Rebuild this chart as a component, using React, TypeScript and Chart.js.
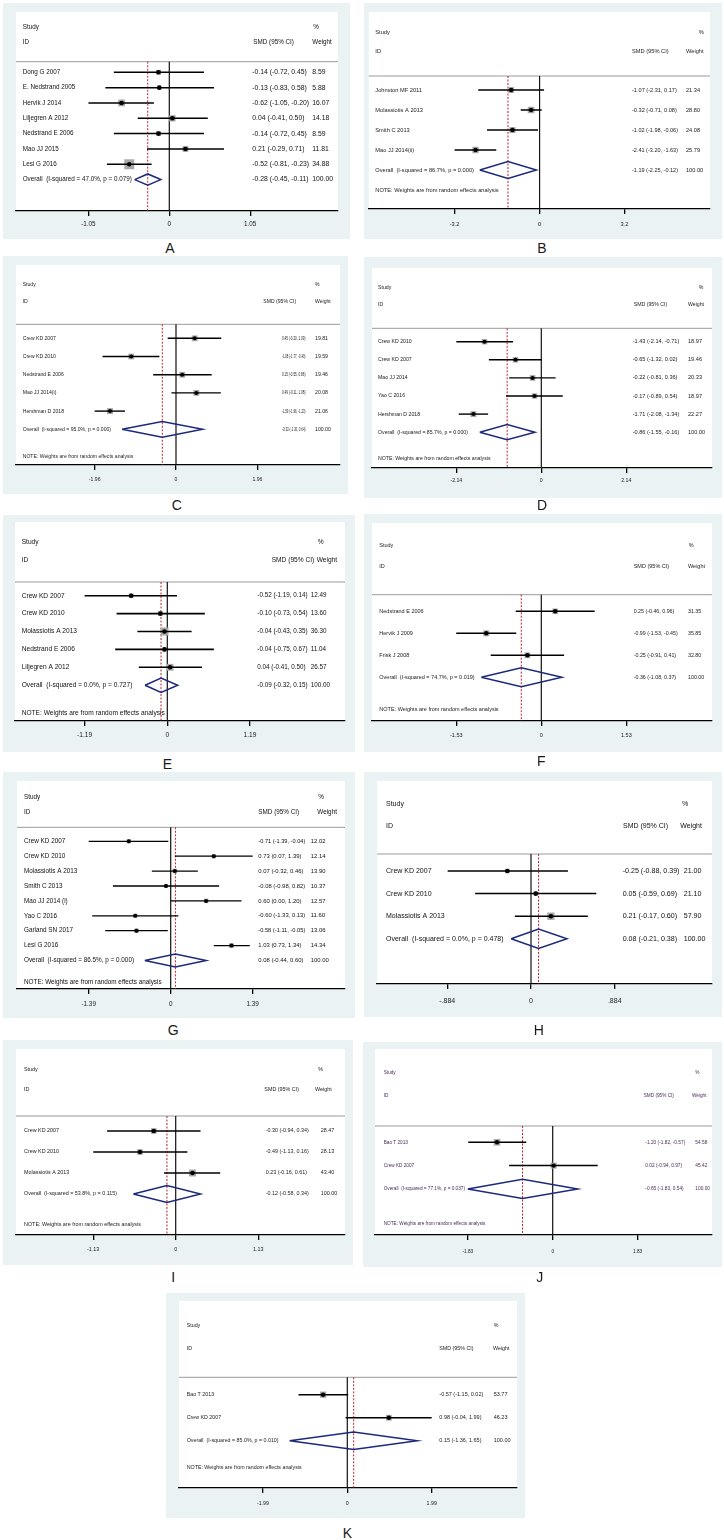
import React, { useEffect, useRef } from 'react';
import { Chart, registerables } from 'chart.js';
Chart.register(...registerables);

const FONT = '"Liberation Sans", Arial, sans-serif';
const NOTE = 'NOTE: Weights are from random effects analysis';

// ---------- Panel A ----------
const studiesA = ['Dong G 2007', 'E. Nedstrand 2005', 'Hervik J 2014', 'Liljegren A 2012', 'Nedstrand E 2006', 'Mao JJ 2015', 'Lesi G 2016'];
const smdA = [-0.14, -0.13, -0.62, 0.04, -0.14, 0.21, -0.52];
const lowA = [-0.72, -0.83, -1.05, -0.41, -0.72, -0.29, -0.81];
const highA = [0.45, 0.58, -0.20, 0.50, 0.45, 0.71, -0.23];
const weightA = [8.59, 5.88, 16.07, 14.18, 8.59, 11.81, 34.88];
const overallA = [-0.28, -0.45, -0.11];
const hetA = '47.0%, p = 0.079';
const ticksA = [-1.05, 0, 1.05];
const tickLabelsA = ['-1.05', '0', '1.05'];

// ---------- Panel B ----------
const studiesB = ['Johnston MF 2011', 'Molassiotis A 2013', 'Smith C 2013', 'Mao JJ 2014(ii)'];
const smdB = [-1.07, -0.32, -1.02, -2.41];
const lowB = [-2.31, -0.71, -1.98, -3.20];
const highB = [0.17, 0.08, -0.06, -1.63];
const weightB = [21.34, 28.80, 24.08, 25.79];
const overallB = [-1.19, -2.25, -0.12];
const hetB = '86.7%, p = 0.000';
const ticksB = [-3.2, 0, 3.2];
const tickLabelsB = ['-3.2', '0', '3.2'];

// ---------- Panel C ----------
const studiesC = ['Crew KD 2007', 'Crew KD 2010', 'Nedstrand E 2006', 'Mao JJ 2014(i)', 'Hershman D 2018'];
const smdC = [0.45, -1.08, 0.15, 0.49, -1.59];
const lowC = [-0.20, -1.77, -0.55, -0.11, -1.96];
const highC = [1.09, -0.40, 0.86, 1.08, -1.23];
const weightC = [19.81, 19.59, 19.46, 20.08, 21.06];
const overallC = [-0.33, -1.30, 0.64];
const hetC = '95.0%, p = 0.000';
const ticksC = [-1.96, 0, 1.96];
const tickLabelsC = ['-1.96', '0', '1.96'];

// ---------- Panel D ----------
const studiesD = ['Crew KD 2010', 'Crew KD 2007', 'Mao JJ 2014', 'Yao C 2016', 'Hershman D 2018'];
const smdD = [-1.43, -0.65, -0.22, -0.17, -1.71];
const lowD = [-2.14, -1.32, -0.81, -0.89, -2.08];
const highD = [-0.71, 0.02, 0.36, 0.54, -1.34];
const weightD = [18.97, 19.46, 20.33, 18.97, 22.27];
const overallD = [-0.86, -1.55, -0.16];
const hetD = '85.7%, p = 0.000';
const ticksD = [-2.14, 0, 2.14];
const tickLabelsD = ['-2.14', '0', '2.14'];

// ---------- Panel E ----------
const studiesE = ['Crew KD 2007', 'Crew KD 2010', 'Molassiotis A 2013', 'Nedstrand E 2006', 'Liljegren A 2012'];
const smdE = [-0.52, -0.10, -0.04, -0.04, 0.04];
const lowE = [-1.19, -0.73, -0.43, -0.75, -0.41];
const highE = [0.14, 0.54, 0.35, 0.67, 0.50];
const weightE = [12.49, 13.60, 36.30, 11.04, 26.57];
const overallE = [-0.09, -0.32, 0.15];
const hetE = '0.0%, p = 0.727';
const ticksE = [-1.19, 0, 1.19];
const tickLabelsE = ['-1.19', '0', '1.19'];

// ---------- Panel F ----------
const studiesF = ['Nedstrand E 2006', 'Hervik J 2009', 'Frisk J 2008'];
const smdF = [0.25, -0.99, -0.25];
const lowF = [-0.46, -1.53, -0.91];
const highF = [0.96, -0.45, 0.41];
const weightF = [31.35, 35.85, 32.80];
const overallF = [-0.36, -1.08, 0.37];
const hetF = '74.7%, p = 0.019';
const ticksF = [-1.53, 0, 1.53];
const tickLabelsF = ['-1.53', '0', '1.53'];

// ---------- Panel G ----------
const studiesG = ['Crew KD 2007', 'Crew KD 2010', 'Molassiotis A 2013', 'Smith C 2013', 'Mao JJ 2014 (i)', 'Yao C 2016', 'Garland SN 2017', 'Lesi G 2016'];
const smdG = [-0.71, 0.73, 0.07, -0.08, 0.60, -0.60, -0.58, 1.03];
const lowG = [-1.39, 0.07, -0.32, -0.98, 0.00, -1.33, -1.11, 0.73];
const highG = [-0.04, 1.39, 0.46, 0.82, 1.20, 0.13, -0.05, 1.34];
const weightG = [12.02, 12.14, 13.90, 10.37, 12.57, 11.60, 13.06, 14.34];
const overallG = [0.08, -0.44, 0.60];
const hetG = '86.5%, p = 0.000';
const ticksG = [-1.39, 0, 1.39];
const tickLabelsG = ['-1.39', '0', '1.39'];

// ---------- Panel H ----------
const studiesH = ['Crew KD 2007', 'Crew KD 2010', 'Molassiotis A 2013'];
const smdH = [-0.25, 0.05, 0.21];
const lowH = [-0.88, -0.59, -0.17];
const highH = [0.39, 0.69, 0.60];
const weightH = [21.00, 21.10, 57.90];
const overallH = [0.08, -0.21, 0.38];
const hetH = '0.0%, p = 0.478';
const ticksH = [-0.884, 0, 0.884];
const tickLabelsH = ['-.884', '0', '.884'];

// ---------- Panel I ----------
const studiesI = ['Crew KD 2007', 'Crew KD 2010', 'Molassiotis A 2013'];
const smdI = [-0.30, -0.49, 0.23];
const lowI = [-0.94, -1.13, -0.16];
const highI = [0.34, 0.16, 0.61];
const weightI = [28.47, 28.13, 43.40];
const overallI = [-0.12, -0.58, 0.34];
const hetI = '53.8%, p = 0.115';
const ticksI = [-1.13, 0, 1.13];
const tickLabelsI = ['-1.13', '0', '1.13'];

// ---------- Panel J ----------
const studiesJ = ['Bao T 2013', 'Crew KD 2007'];
const smdJ = [-1.20, 0.02];
const lowJ = [-1.82, -0.94];
const highJ = [-0.57, 0.97];
const weightJ = [54.58, 45.42];
const overallJ = [-0.65, -1.83, 0.54];
const hetJ = '77.1%, p = 0.037';
const ticksJ = [-1.83, 0, 1.83];
const tickLabelsJ = ['-1.83', '0', '1.83'];

// ---------- Panel K ----------
const studiesK = ['Bao T 2013', 'Crew KD 2007'];
const smdK = [-0.57, 0.98];
const lowK = [-1.15, -0.04];
const highK = [0.02, 1.99];
const weightK = [53.77, 46.23];
const overallK = [0.15, -1.36, 1.65];
const hetK = '85.0%, p = 0.010';
const ticksK = [-1.99, 0, 1.99];
const tickLabelsK = ['-1.99', '0', '1.99'];

type Layout = {
  outer: number[]; white: number[]; zero: number; ppu: number; r0: number; s: number;
  studyY: number; idY: number; hdrY: number; labelX: number; ciX: number; wtX: number;
  ciHdrX: number; wtHdrX: number; pctX: number; fs: number; ciFs: number; ciMax: number; tickY: number; letter: number[];
  k: number; noteY: number | null; dh: number; lw: number; dot: number; color: string;
};

const LAYOUTS: Record<string, Layout> = {
  A: { outer: [3, 3, 350, 239], white: [16, 12, 338, 211], zero: 169.3, ppu: 77, r0: 72.3, s: 15.33, studyY: 27.7, idY: 42.3, hdrY: 61.7, labelX: 22.7, ciX: 252.3, wtX: 312.3, ciHdrX: 253.3, wtHdrX: 312.3, pctX: 313.3, fs: 6.3, ciFs: 6.8, ciMax: 58.5, tickY: 224, letter: [170, 248], k: 1.69, noteY: null, dh: 0.37, lw: 1.5, dot: 2.3, color: '#111' },
  B: { outer: [364, 3, 722, 239], white: [367, 12, 710, 209], zero: 538.7, ppu: 26.7, r0: 90, s: 20, studyY: 32.3, idY: 51.7, hdrY: 76, labelX: 375.3, ciX: 632, wtX: 686, ciHdrX: 632, wtHdrX: 686, pctX: 698.7, fs: 5.7, ciFs: 5.6, ciMax: 46, tickY: 224, letter: [542, 248], k: 1.25, noteY: 190, dh: 0.42, lw: 1.6, dot: 2.2, color: '#222' },
  C: { outer: [3, 256, 348, 494], white: [16, 265, 340, 465], zero: 176, ppu: 41.5, r0: 338.3, s: 18.2, studyY: 285, idY: 301.7, hdrY: 324.3, labelX: 22.7, ciX: 282, wtX: 315, ciHdrX: 263.3, wtHdrX: 315, pctX: 315, fs: 5.1, ciFs: 5.2, ciMax: 23.5, tickY: 479.3, letter: [176.7, 505], k: 1.3, noteY: 456.7, dh: 0.43, lw: 1.4, dot: 2, color: '#222' },
  D: { outer: [364, 257, 722, 498], white: [372, 268, 712, 468], zero: 541.3, ppu: 39.7, r0: 341.7, s: 18.1, studyY: 287.7, idY: 305, hdrY: 328.3, labelX: 378, ciX: 632.7, wtX: 688, ciHdrX: 633.7, wtHdrX: 688, pctX: 698.7, fs: 5.2, ciFs: 5.6, ciMax: 48, tickY: 481, letter: [542, 505], k: 1.25, noteY: 459, dh: 0.42, lw: 1.4, dot: 2, color: '#222' },
  E: { outer: [3, 515, 355, 752], white: [15, 522, 345, 721], zero: 167.3, ppu: 69.5, r0: 595.7, s: 17.9, studyY: 541.7, idY: 560, hdrY: 582, labelX: 21.7, ciX: 257.3, wtX: 310.7, ciHdrX: 271.7, wtHdrX: 316.7, pctX: 317.7, fs: 6.6, ciFs: 6.3, ciMax: 51, tickY: 735.3, letter: [167.3, 764], k: 1.33, noteY: 712.7, dh: 0.4, lw: 1.6, dot: 2.3, color: '#111' },
  F: { outer: [364, 514, 722, 752], white: [372, 523, 712, 721], zero: 541.3, ppu: 55.6, r0: 611.3, s: 22, studyY: 545, idY: 566.7, hdrY: 594.7, labelX: 379.3, ciX: 633.7, wtX: 688, ciHdrX: 633.7, wtHdrX: 688, pctX: 688.7, fs: 5.5, ciFs: 5.3, ciMax: 44, tickY: 735.3, letter: [541.3, 760.7], k: 1.0, noteY: 709.7, dh: 0.43, lw: 1.6, dot: 2.2, color: '#222' },
  G: { outer: [3, 772, 355, 1018], white: [17, 781, 345, 989], zero: 170.7, ppu: 59, r0: 841.3, s: 14.9, studyY: 797.3, idY: 812, hdrY: 827.3, labelX: 24, ciX: 258.3, wtX: 310.7, ciHdrX: 258.3, wtHdrX: 317.3, pctX: 318.3, fs: 6.35, ciFs: 5.9, ciMax: 47, tickY: 1004, letter: [173.3, 1030], k: 1.25, noteY: 982, dh: 0.43, lw: 1.3, dot: 2, color: '#111' },
  H: { outer: [364, 772, 722, 1017], white: [377, 781, 712, 984], zero: 531, ppu: 94.7, r0: 871, s: 22.6, studyY: 804, idY: 825.7, hdrY: 854, labelX: 386, ciX: 622.7, wtX: 683.7, ciHdrX: 623, wtHdrX: 680.3, pctX: 682, fs: 7, ciFs: 7.1, ciMax: 58, tickY: 1000.7, letter: [538.7, 1030], k: 0.96, noteY: null, dh: 0.43, lw: 1.5, dot: 2.3, color: '#111' },
  I: { outer: [3, 1040, 353, 1265], white: [16, 1049, 345, 1235], zero: 175.7, ppu: 73, r0: 1131, s: 21, studyY: 1069.3, idY: 1089.3, hdrY: 1116, labelX: 24, ciX: 265.7, wtX: 320.7, ciHdrX: 264.3, wtHdrX: 315, pctX: 318.3, fs: 5.4, ciFs: 5.4, ciMax: 44, tickY: 1249.7, letter: [173.3, 1277.3], k: 1.05, noteY: 1224.3, dh: 0.4, lw: 1.5, dot: 2.2, color: '#222' },
  J: { outer: [363, 1042, 722, 1267], white: [375, 1049, 712, 1235], zero: 552.7, ppu: 46.4, r0: 1142.3, s: 23.3, studyY: 1072.7, idY: 1096, hdrY: 1126, labelX: 383.7, ciX: 645.3, wtX: 695.3, ciHdrX: 643.7, wtHdrX: 692, pctX: 695.3, fs: 4.7, ciFs: 4.8, ciMax: 40, tickY: 1251.3, letter: [539.7, 1277.3], k: 0.9, noteY: 1223.3, dh: 0.41, lw: 1.5, dot: 2.2, color: '#4a2c5c' },
  K: { outer: [166, 1293, 525, 1518], white: [179, 1301, 517, 1488], zero: 347.3, ppu: 42.4, r0: 1394.7, s: 23, studyY: 1325.7, idY: 1349, hdrY: 1377.3, labelX: 186.7, ciX: 439.3, wtX: 493.7, ciHdrX: 439.3, wtHdrX: 493, pctX: 493.7, fs: 5.3, ciFs: 5.5, ciMax: 46, tickY: 1504, letter: [347.3, 1533.3], k: 0.85, noteY: 1467.3, dh: 0.38, lw: 1.5, dot: 2.2, color: '#222' },
};

type PanelData = {
  letter: string; studies: string[]; smd: number[]; low: number[]; high: number[]; weight: number[];
  overall: number[]; het: string; ticks: number[]; tickLabels: string[]; note: boolean;
};

const PANELS: PanelData[] = [
  { letter: 'A', studies: studiesA, smd: smdA, low: lowA, high: highA, weight: weightA, overall: overallA, het: hetA, ticks: ticksA, tickLabels: tickLabelsA, note: false },
  { letter: 'B', studies: studiesB, smd: smdB, low: lowB, high: highB, weight: weightB, overall: overallB, het: hetB, ticks: ticksB, tickLabels: tickLabelsB, note: true },
  { letter: 'C', studies: studiesC, smd: smdC, low: lowC, high: highC, weight: weightC, overall: overallC, het: hetC, ticks: ticksC, tickLabels: tickLabelsC, note: true },
  { letter: 'D', studies: studiesD, smd: smdD, low: lowD, high: highD, weight: weightD, overall: overallD, het: hetD, ticks: ticksD, tickLabels: tickLabelsD, note: true },
  { letter: 'E', studies: studiesE, smd: smdE, low: lowE, high: highE, weight: weightE, overall: overallE, het: hetE, ticks: ticksE, tickLabels: tickLabelsE, note: true },
  { letter: 'F', studies: studiesF, smd: smdF, low: lowF, high: highF, weight: weightF, overall: overallF, het: hetF, ticks: ticksF, tickLabels: tickLabelsF, note: true },
  { letter: 'G', studies: studiesG, smd: smdG, low: lowG, high: highG, weight: weightG, overall: overallG, het: hetG, ticks: ticksG, tickLabels: tickLabelsG, note: true },
  { letter: 'H', studies: studiesH, smd: smdH, low: lowH, high: highH, weight: weightH, overall: overallH, het: hetH, ticks: ticksH, tickLabels: tickLabelsH, note: false },
  { letter: 'I', studies: studiesI, smd: smdI, low: lowI, high: highI, weight: weightI, overall: overallI, het: hetI, ticks: ticksI, tickLabels: tickLabelsI, note: true },
  { letter: 'J', studies: studiesJ, smd: smdJ, low: lowJ, high: highJ, weight: weightJ, overall: overallJ, het: hetJ, ticks: ticksJ, tickLabels: tickLabelsJ, note: true },
  { letter: 'K', studies: studiesK, smd: smdK, low: lowK, high: highK, weight: weightK, overall: overallK, het: hetK, ticks: ticksK, tickLabels: tickLabelsK, note: true },
];

const fmtCI = (e: number, l: number, h: number) => `${e.toFixed(2)} (${l.toFixed(2)}, ${h.toFixed(2)})`;

function Forest({ p }: { p: PanelData }) {
  const ref = useRef<HTMLCanvasElement | null>(null);
  const L = LAYOUTS[p.letter];
  const [x1, y1, x2, y2] = L.outer;
  const W = x2 - x1;
  const H = y2 - y1;

  useEffect(() => {
    if (!ref.current) return;
    const [wx1, wy1, wx2, wy2] = L.white;
    const toRow = (py: number) => (py - L.r0) / L.s;
    const n = p.studies.length;
    const yMin = toRow(wy1);
    const yMax = toRow(wy2);
    const hdrRow = toRow(L.hdrY);
    const tickLen = 5;
    const tickPad = Math.max(0, L.tickY - wy2 - tickLen - 0.6 * L.fs);
    const axisH = tickLen + 1.2 * L.fs + 2 * tickPad;
    const padBottom = Math.max(0, y2 - wy2 - axisH);
    const xMin = (wx1 - L.zero) / L.ppu;
    const xMax = (wx2 - L.zero) / L.ppu;
    const [oe, ol, oh] = p.overall;

    const datasets: any[] = [];
    datasets.push({
      label: 'dots', data: p.smd.map((v, i) => ({ x: v, y: i })),
      pointStyle: 'circle', pointRadius: L.dot, backgroundColor: '#000', borderWidth: 0, order: 0,
    });
    p.smd.forEach((_, i) => {
      datasets.push({
        label: 'ci' + i, data: [{ x: p.low[i], y: i }, { x: p.high[i], y: i }], showLine: true,
        borderColor: '#000', borderWidth: L.lw, pointRadius: 0, order: 2,
      });
    });
    datasets.push({
      label: 'boxes', data: p.smd.map((v, i) => ({ x: v, y: i })), pointStyle: 'rect',
      pointRadius: p.weight.map((w) => (L.k * Math.sqrt(w)) / Math.SQRT2),
      backgroundColor: '#a9a9a9', borderWidth: 0, order: 3,
    });
    datasets.push({
      label: 'diamond',
      data: [{ x: ol, y: n }, { x: oe, y: n - L.dh }, { x: oh, y: n }, { x: oe, y: n + L.dh }, { x: ol, y: n }],
      showLine: true, borderColor: '#1c2a7c', borderWidth: 1.5, pointRadius: 0, fill: false, order: 1,
    });
    datasets.push({
      label: 'overall', data: [{ x: oe, y: hdrRow }, { x: oe, y: yMax }], showLine: true,
      borderColor: '#b5262e', borderWidth: 1, borderDash: [2, 1.5], pointRadius: 0, order: 4,
    });
    datasets.push({
      label: 'zero', data: [{ x: 0, y: hdrRow }, { x: 0, y: yMax }], showLine: true,
      borderColor: '#111', borderWidth: 1.2, pointRadius: 0, order: 5,
    });

    const font = `${L.fs}px ${FONT}`;
    const ciFont = `${L.ciFs}px ${FONT}`;
    const plugin = {
      id: 'forest' + p.letter,
      beforeDraw(chart: any) {
        const { ctx, chartArea: a } = chart;
        ctx.save();
        ctx.fillStyle = '#ffffff';
        ctx.fillRect(a.left, a.top, a.right - a.left, a.bottom - a.top);
        ctx.restore();
      },
      beforeDatasetsDraw(chart: any) {
        const { ctx, chartArea: a, scales } = chart;
        const y = scales.y.getPixelForValue(hdrRow);
        ctx.save();
        ctx.strokeStyle = '#9a9a9a';
        ctx.lineWidth = 1;
        ctx.beginPath();
        ctx.moveTo(a.left, y);
        ctx.lineTo(a.right, y);
        ctx.stroke();
        ctx.restore();
      },
      afterDatasetsDraw(chart: any) {
        const { ctx, scales } = chart;
        const ys = scales.y;
        ctx.save();
        ctx.font = font;
        ctx.fillStyle = L.color;
        ctx.textBaseline = 'middle';
        ctx.textAlign = 'left';
        const put = (t: string, px: number, row: number, maxW?: number) => {
          if (maxW) ctx.fillText(t, px - x1, ys.getPixelForValue(row), maxW);
          else ctx.fillText(t, px - x1, ys.getPixelForValue(row));
        };
        put('Study', L.labelX, toRow(L.studyY));
        put('ID', L.labelX, toRow(L.idY));
        put('%', L.pctX, toRow(L.studyY));
        put('SMD (95% CI)', L.ciHdrX, toRow(L.idY));
        put('Weight', L.wtHdrX, toRow(L.idY));
        p.studies.forEach((s, i) => put(s, L.labelX, i));
        put(`Overall  (I-squared = ${p.het})`, L.labelX, n);
        if (p.note && L.noteY !== null) put(NOTE, L.labelX, toRow(L.noteY));
        ctx.font = ciFont;
        p.studies.forEach((_, i) => {
          put(fmtCI(p.smd[i], p.low[i], p.high[i]), L.ciX, i, L.ciMax);
          put(p.weight[i].toFixed(2), L.wtX, i);
        });
        put(fmtCI(oe, ol, oh), L.ciX, n, L.ciMax);
        put((100).toFixed(2), L.wtX, n);
        ctx.restore();
      },
    };

    const chart = new Chart(ref.current, {
      type: 'scatter',
      data: { datasets },
      options: {
        responsive: false,
        animation: false,
        devicePixelRatio: 1,
        events: [],
        layout: { padding: { left: wx1 - x1, right: x2 - wx2, top: wy1 - y1, bottom: padBottom } },
        plugins: { legend: { display: false }, tooltip: { enabled: false }, title: { display: false } },
        scales: {
          x: {
            type: 'linear', position: 'bottom', min: xMin, max: xMax,
            afterBuildTicks: (scale: any) => { scale.ticks = p.ticks.map((v) => ({ value: v })); },
            ticks: {
              autoSkip: false, maxRotation: 0, padding: tickPad, color: '#222',
              font: { size: L.fs, family: FONT },
              callback: (_v: any, i: number) => p.tickLabels[i],
            },
            grid: { display: true, drawOnChartArea: false, drawTicks: true, tickLength: tickLen, color: '#000', lineWidth: 1.3 },
            border: { display: true, color: '#000', width: 1.3 },
          },
          y: { type: 'linear', min: yMin, max: yMax, reverse: true, display: false },
        },
      },
      plugins: [plugin],
    } as any);
    return () => chart.destroy();
  }, []);

  return (
    <>
      <div style={{ position: 'absolute', left: x1, top: y1, width: W, height: H, background: '#EAF2F3' }} />
      <canvas ref={ref} width={W} height={H} style={{ position: 'absolute', left: x1, top: y1, width: W, height: H }} />
      <div
        style={{
          position: 'absolute', left: L.letter[0], top: L.letter[1], transform: 'translate(-50%, -50%)',
          font: `14px ${FONT}`, color: '#1a1a1a', lineHeight: 1, whiteSpace: 'nowrap',
        }}
      >
        {p.letter}
      </div>
    </>
  );
}

export default function App() {
  return (
    <div style={{ position: 'absolute', left: 0, top: 0, width: 724, height: 1540, background: '#ffffff', overflow: 'hidden' }}>
      {PANELS.map((p) => (
        <Forest key={p.letter} p={p} />
      ))}
    </div>
  );
}
